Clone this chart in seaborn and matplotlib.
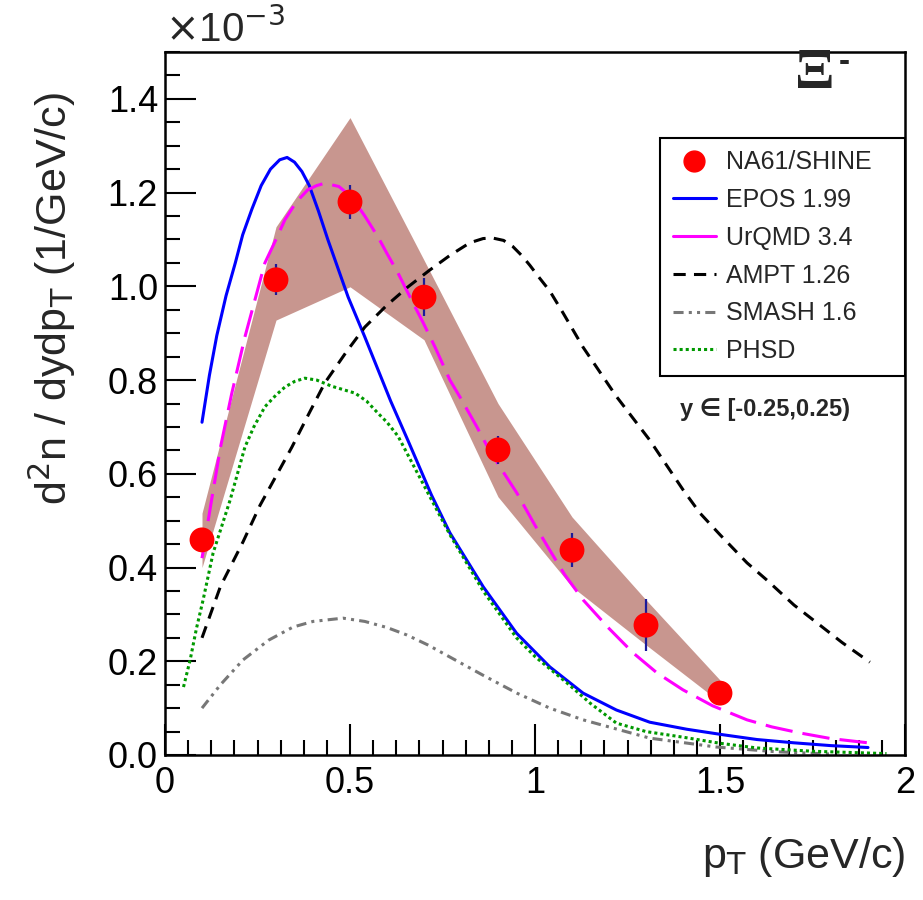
import matplotlib
matplotlib.use("Agg")
import matplotlib.pyplot as plt
import seaborn as sns
from matplotlib.lines import Line2D
from matplotlib.ticker import MultipleLocator, FixedLocator

# all y values in units of 1e-3 (1/GeV/c)
pt_data = [0.1, 0.3, 0.5, 0.7, 0.9, 1.1, 1.3, 1.5]
na61_y = [0.459, 1.014, 1.18, 0.977, 0.651, 0.437, 0.277, 0.132]
na61_stat = [0.01, 0.033, 0.037, 0.04, 0.03, 0.036, 0.056, 0.02]
na61_sys_lo = [0.40, 0.928, 0.999, 0.886, 0.551, 0.359, 0.235, 0.113]
na61_sys_hi = [0.516, 1.127, 1.36, 1.056, 0.75, 0.508, 0.331, 0.16]

epos_x = [0.10, 0.12, 0.14, 0.165, 0.19, 0.21, 0.235, 0.26, 0.285, 0.31, 0.33, 0.35, 0.37,
          0.39, 0.415, 0.44, 0.495, 0.54, 0.61, 0.66, 0.72, 0.77, 0.86, 0.95, 1.04, 1.13,
          1.22, 1.31, 1.41, 1.51, 1.6, 1.7, 1.8, 1.9]
epos_y = [0.71, 0.81, 0.895, 0.98, 1.05, 1.11, 1.165, 1.215, 1.25, 1.27, 1.275, 1.265, 1.245,
          1.215, 1.16, 1.10, 0.977, 0.892, 0.755, 0.665, 0.555, 0.474, 0.359, 0.26, 0.188,
          0.132, 0.096, 0.07, 0.055, 0.043, 0.033, 0.026, 0.02, 0.016]

urqmd_x = [0.10, 0.125, 0.15, 0.18, 0.216, 0.27, 0.30, 0.324, 0.355, 0.386, 0.41, 0.432,
           0.47, 0.505, 0.54, 0.576, 0.60, 0.63, 0.67, 0.698, 0.73, 0.77, 0.80, 0.843, 0.87,
           0.905, 0.951, 1.0, 1.04, 1.08, 1.13, 1.2, 1.265, 1.33, 1.40, 1.48, 1.573, 1.64,
           1.716, 1.8, 1.9]
urqmd_y = [0.42, 0.54, 0.657, 0.77, 0.892, 1.05, 1.10, 1.142, 1.18, 1.206, 1.215, 1.22,
           1.213, 1.19, 1.15, 1.105, 1.07, 1.028, 0.965, 0.922, 0.87, 0.80, 0.76, 0.70, 0.66,
           0.615, 0.559, 0.49, 0.437, 0.385, 0.331, 0.27, 0.218, 0.175, 0.139, 0.105, 0.075,
           0.06, 0.047, 0.035, 0.026]

ampt_x = [0.10, 0.15, 0.211, 0.257, 0.30, 0.343, 0.39, 0.432, 0.49, 0.54, 0.60, 0.657, 0.716,
          0.77, 0.824, 0.86, 0.886, 0.915, 0.94, 0.965, 0.986, 1.01, 1.04, 1.076, 1.13, 1.22,
          1.31, 1.40, 1.446, 1.50, 1.573, 1.627, 1.70, 1.762, 1.83, 1.905]
ampt_y = [0.25, 0.36, 0.455, 0.533, 0.595, 0.657, 0.73, 0.794, 0.86, 0.913, 0.96, 0.999,
          1.035, 1.066, 1.093, 1.102, 1.103, 1.098, 1.085, 1.065, 1.045, 1.02, 0.99, 0.943,
          0.87, 0.765, 0.672, 0.566, 0.516, 0.47, 0.41, 0.373, 0.32, 0.282, 0.24, 0.198]

smash_x = [0.10, 0.15, 0.211, 0.28, 0.346, 0.40, 0.481, 0.54, 0.60, 0.654, 0.71, 0.77, 0.86,
           0.951, 1.04, 1.13, 1.31, 1.49, 1.65, 1.8]
smash_y = [0.10, 0.15, 0.203, 0.245, 0.273, 0.285, 0.292, 0.285, 0.272, 0.256, 0.235, 0.209,
           0.17, 0.132, 0.10, 0.075, 0.036, 0.017, 0.007, 0.002]

phsd_x = [0.05, 0.068, 0.085, 0.103, 0.13, 0.15, 0.176, 0.216, 0.24, 0.27, 0.30, 0.324, 0.35,
          0.378, 0.41, 0.45, 0.48, 0.514, 0.545, 0.576, 0.60, 0.63, 0.67, 0.716, 0.77, 0.86,
          0.95, 1.0, 1.086, 1.15, 1.22, 1.3, 1.40, 1.5, 1.6, 1.75, 1.95]
phsd_y = [0.145, 0.203, 0.27, 0.331, 0.431, 0.48, 0.544, 0.657, 0.70, 0.743, 0.768, 0.785,
          0.797, 0.804, 0.80, 0.787, 0.78, 0.772, 0.755, 0.729, 0.71, 0.68, 0.62, 0.551, 0.47,
          0.35, 0.25, 0.21, 0.154, 0.11, 0.068, 0.05, 0.038, 0.025, 0.015, 0.008, 0.003]

x_ticks = [0, 0.5, 1, 1.5, 2]
x_tick_labels = ["0", "0.5", "1", "1.5", "2"]
y_ticks = [0.0, 0.2, 0.4, 0.6, 0.8, 1.0, 1.2, 1.4]
y_tick_labels = ["0.0", "0.2", "0.4", "0.6", "0.8", "1.0", "1.2", "1.4"]

sns.set_theme(style="ticks")
plt.rcParams['font.family'] = ['Liberation Sans', 'DejaVu Sans']

W, H = 923, 900
fig = plt.figure(figsize=(W / 100, H / 100), dpi=100)
ax = fig.add_axes([165 / W, 145 / H, 740 / W, 703 / H])

band_col = '#c8968f'
ax.fill_between(pt_data, na61_sys_lo, na61_sys_hi, color=band_col, lw=0, zorder=1)

lw = 2.2
ls_urqmd = (0, (9, 3.3))
ls_ampt = (0, (4, 2.7))
ls_smash = (0, (3.3, 1.7, 1, 1.7, 1, 1.7))
ls_phsd = (0, (1, 1))
sns.lineplot(x=epos_x, y=epos_y, ax=ax, color='#0000ff', lw=lw, zorder=2)
sns.lineplot(x=urqmd_x, y=urqmd_y, ax=ax, color='#ff00ff', lw=lw, linestyle=ls_urqmd, zorder=2)
sns.lineplot(x=ampt_x, y=ampt_y, ax=ax, color='black', lw=lw, linestyle=ls_ampt, zorder=2)
sns.lineplot(x=smash_x, y=smash_y, ax=ax, color='#777777', lw=lw, linestyle=ls_smash, zorder=2)
sns.lineplot(x=phsd_x, y=phsd_y, ax=ax, color='#009900', lw=lw, linestyle=ls_phsd, zorder=2)

ax.errorbar(pt_data, na61_y, yerr=na61_stat, fmt='none', ecolor='#1a1a9a', elinewidth=1.6,
            capsize=0, zorder=3)
sns.scatterplot(x=pt_data, y=na61_y, ax=ax, color='#ff0000', s=320, marker='o',
                edgecolor='none', zorder=4)

ax.set_xlim(0, 2)
ax.set_ylim(0, 1.5)
ax.xaxis.set_major_locator(FixedLocator(x_ticks))
ax.set_xticklabels(x_tick_labels)
ax.xaxis.set_minor_locator(MultipleLocator(0.0625))
ax.yaxis.set_major_locator(FixedLocator(y_ticks))
ax.set_yticklabels(y_tick_labels)
ax.yaxis.set_minor_locator(MultipleLocator(0.05))
ax.tick_params(which='major', direction='in', length=22, width=1.5, labelsize=26,
               top=False, right=False, color='black', labelcolor='black')
ax.tick_params(axis='x', which='major', pad=8)
ax.tick_params(axis='y', which='major', pad=5)
ax.tick_params(which='minor', direction='in', length=11, width=1.5, top=False, right=False,
               color='black')
for s in ax.spines.values():
    s.set_linewidth(1.8)
    s.set_color('black')
ax.set_xlabel("")
ax.set_ylabel("")

fig.text(165 / W, 1 - 42 / H, r"$\times$10$^{-3}$", fontsize=29, ha='left', va='baseline')
fig.text(52 / W, 1 - 92 / H, r"d$^{2}$n / dydp$_{\mathrm{T}}$ (1/GeV/c)", fontsize=31,
         rotation=90, ha='center', va='top')
fig.text(905 / W, 1 - 868 / H, r"p$_{\mathrm{T}}$ (GeV/c)", fontsize=31, ha='right',
         va='baseline')

ax.text(0.878, 0.968, "Ξ", fontsize=42, fontweight='bold', family='Liberation Serif',
        ha='center', va='center', transform=ax.transAxes)
ax.text(0.918, 0.985, "-", fontsize=24, fontweight='bold', ha='center', va='center',
        transform=ax.transAxes)
ax.text(0.696, 0.491, "y ∈ [-0.25,0.25)", fontsize=17, fontweight='bold', ha='left',
        va='center', transform=ax.transAxes)

handles = [
    Line2D([], [], color='#ff0000', marker='o', markersize=15, linestyle='none'),
    Line2D([], [], color='#0000ff', lw=lw),
    Line2D([], [], color='#ff00ff', lw=lw),
    Line2D([], [], color='black', lw=lw, linestyle=ls_ampt),
    Line2D([], [], color='#777777', lw=lw, linestyle=ls_smash),
    Line2D([], [], color='#009900', lw=lw, linestyle=ls_phsd),
]
labels = ["NA61/SHINE", "EPOS 1.99", "UrQMD 3.4", "AMPT 1.26", "SMASH 1.6", "PHSD"]
leg = ax.legend(handles, labels, loc='upper left', bbox_to_anchor=(0.669, 0.541, 0.331, 0.337),
                mode='expand', fontsize=18, frameon=True, fancybox=False, edgecolor='black',
                framealpha=1, handlelength=1.75, handletextpad=0.4, labelspacing=0.55,
                borderpad=0.5, borderaxespad=0)
leg.get_frame().set_linewidth(1.5)

fig.savefig("out.png", dpi=100)
